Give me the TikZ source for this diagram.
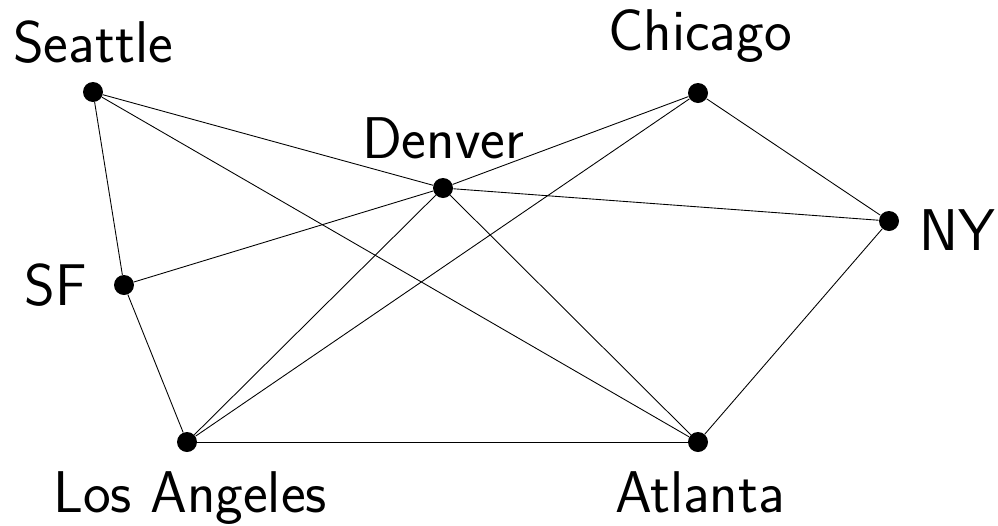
\documentclass[tikz,border=0pt]{standalone}
\begin{document}
\begin{tikzpicture}[x=0.02cm,y=-0.02cm,
  city/.style={circle,fill=black,inner sep=0pt,minimum size=0.4cm},
  lbl/.style={anchor=base,inner sep=0pt,font=\sffamily\fontsize{33.5}{40}\selectfont},
  edge/.style={line width=0.5pt}]
\useasboundingbox (0,0) rectangle (998,525);
\node[city] (sea) at (93,92) {};
\node[city] (sf) at (124,285) {};
\node[city] (la) at (187,442) {};
\node[city] (den) at (443,188) {};
\node[city] (chi) at (698,93) {};
\node[city] (ny) at (889,221) {};
\node[city] (atl) at (698,442) {};
\node[lbl] (tsea) at (93,62) {Seattle};
\node[lbl] (tchi) at (700,50) {Chicago};
\node[lbl] (tden) at (443,158) {Denver};
\node[lbl] (tny) at (957,250) {NY};
\node[lbl] (tsf) at (56,305) {SF};
\node[lbl] (tla) at (190,512) {Los Angeles};
\node[lbl] (tatl) at (700,512) {Atlanta};
\draw[edge] (sea) -- (sf);
\draw[edge] (sea) -- (den);
\draw[edge] (sea) -- (atl);
\draw[edge] (sf) -- (den);
\draw[edge] (sf) -- (la);
\draw[edge] (la) -- (den);
\draw[edge] (la) -- (chi);
\draw[edge] (la) -- (atl);
\draw[edge] (den) -- (chi);
\draw[edge] (den) -- (ny);
\draw[edge] (den) -- (atl);
\draw[edge] (chi) -- (ny);
\draw[edge] (ny) -- (atl);
\end{tikzpicture}
\end{document}
